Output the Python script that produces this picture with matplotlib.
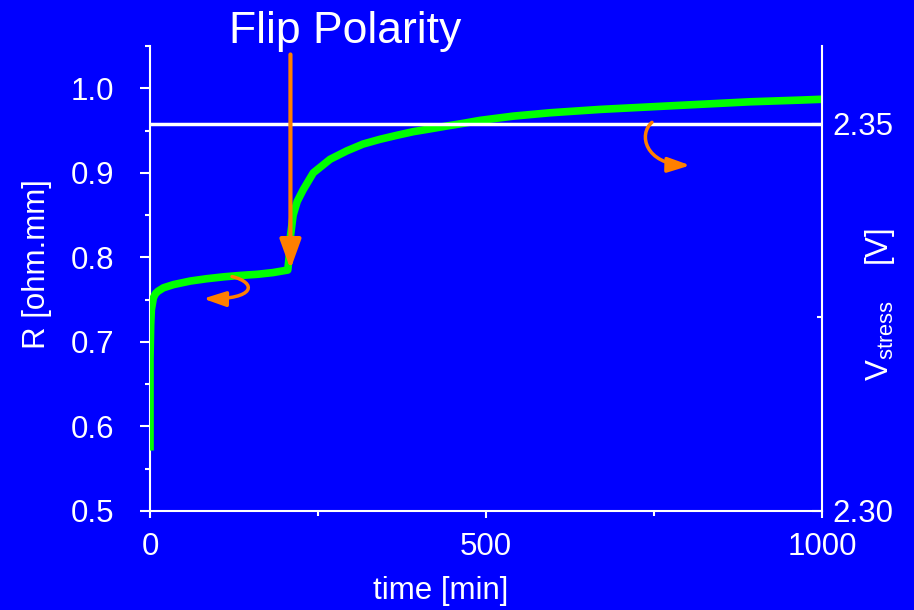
import numpy as np
import matplotlib
matplotlib.use("Agg")
import matplotlib.pyplot as plt
from matplotlib.patches import FancyArrowPatch
from matplotlib.path import Path

plt.rcParams['font.family'] = ['Liberation Sans', 'DejaVu Sans']
plt.rcParams['mathtext.fontset'] = 'custom'
plt.rcParams['mathtext.rm'] = 'Liberation Sans'
plt.rcParams['mathtext.it'] = 'Liberation Sans:italic'

# resistance trace (time in min, R in ohm.mm)
time_min = [0, 0, 1, 2, 5, 8, 12, 20, 35, 60, 84, 110, 134, 160, 183, 205,
            207, 209, 213, 219, 228, 243, 268, 293, 317, 342, 367, 392,
            417, 441, 466, 491, 540, 595, 670, 744, 818, 893, 967, 1000]
resistance = [0.576, 0.68, 0.72, 0.738, 0.752, 0.757, 0.760, 0.764, 0.7678,
              0.772, 0.7747, 0.777, 0.7786, 0.780, 0.782, 0.785,
              0.800, 0.825, 0.850, 0.866, 0.880, 0.900, 0.916, 0.926, 0.934,
              0.9396, 0.9443, 0.9487, 0.952, 0.9553, 0.9585, 0.962, 0.967,
              0.971, 0.975, 0.978, 0.981, 0.984, 0.986, 0.987]

# applied stress voltage (constant)
v_time = [0, 1000]
v_stress = [2.35, 2.35]

x_ticks = [0, 500, 1000]
x_minor = [250, 750]
r_ticks = [0.5, 0.6, 0.7, 0.8, 0.9, 1.0]
r_labels = ['0.5', '0.6', '0.7', '0.8', '0.9', '1.0']
r_minor = [0.55, 0.65, 0.75, 0.85, 0.95, 1.05]
v_ticks = [2.30, 2.35]
v_labels = ['2.30', '2.35']
v_minor = [2.325]

# flip marker arrow (time, R)
flip_start = (209, 1.04)
flip_tip = (209, 0.786)
# curved "which axis" arrows as cubic bezier control points (time, R)
left_hook = [(122, 0.7773), (160, 0.770), (157, 0.750), (79, 0.7512)]
right_hook = [(747, 0.9597), (726, 0.9455), (737, 0.910), (804, 0.9088)]

blue = '#0000FF'
green = '#00FF00'
orange = '#FF7F00'

fig = plt.figure(figsize=(9.14, 6.10), dpi=100, facecolor=blue)
ax = fig.add_axes([150/914, 1 - 511/610, 672/914, 465/610])
ax.set_facecolor(blue)
ax.set_xlim(0, 1000)
ax.set_ylim(0.5, 1.05)

ax.plot(time_min, resistance, color=green, lw=5.5, solid_joinstyle='round', zorder=3)

ax2 = ax.twinx()
ax2.set_ylim(2.30, 2.36)
ax2.plot(v_time, v_stress, color='white', lw=2.5, zorder=2)

for s in ['top', 'right']:
    ax.spines[s].set_visible(False)
for s in ['top', 'left', 'bottom']:
    ax2.spines[s].set_visible(False)
for s in ['left', 'bottom']:
    ax.spines[s].set_color('white')
    ax.spines[s].set_linewidth(1.5)
ax2.spines['right'].set_color('white')
ax2.spines['right'].set_linewidth(1.5)

ax.set_xticks(x_ticks)
ax.set_xticks(x_minor, minor=True)
ax.set_yticks(r_ticks)
ax.set_yticklabels(r_labels)
ax.set_yticks(r_minor, minor=True)
ax2.set_yticks(v_ticks)
ax2.set_yticklabels(v_labels)
ax2.set_yticks(v_minor, minor=True)

ax.tick_params(axis='x', which='major', direction='out', length=5, width=1.5,
               colors='white', labelsize=22.5, pad=10)
ax.tick_params(axis='x', which='minor', direction='out', length=3.5, width=1.5,
               colors='white')
ax.tick_params(axis='y', which='major', direction='out', length=7, width=1.5,
               colors='white', labelsize=22.5, pad=19)
ax.tick_params(axis='y', which='minor', direction='out', length=3.5, width=1.5,
               colors='white')
ax2.tick_params(axis='y', which='major', direction='in', length=7, width=1.5,
                colors='white', labelsize=22.5, pad=7.5)
ax2.tick_params(axis='y', which='minor', direction='in', length=3.5, width=1.5,
                colors='white')

fig.text(37/914, 1 - 264/610, 'R [ohm.mm]', rotation=90, ha='center',
         va='center', color='white', fontsize=22.5)
fig.text(441/914, 1 - 599/610, 'time [min]', ha='center', va='baseline',
         color='white', fontsize=22.5)
fig.text(880/914, 1 - 305/610, r'V$_{\mathrm{stress}}$    [V]', rotation=90,
         ha='center', va='center', color='white', fontsize=22.5)
fig.text(345/914, 1 - 43/610, 'Flip Polarity', ha='center', va='baseline',
         color='white', fontsize=32)

ax2.annotate('', xy=flip_tip, xytext=flip_start,
             xycoords=ax.transData, textcoords=ax.transData,
             arrowprops=dict(arrowstyle='-|>,head_length=1.8,head_width=0.65',
                             color=orange, lw=3, shrinkA=0, shrinkB=0,
                             mutation_scale=10))

curve_codes = [Path.MOVETO, Path.CURVE4, Path.CURVE4, Path.CURVE4]
for hook in [left_hook, right_hook]:
    arrow = FancyArrowPatch(path=Path(hook, curve_codes),
                            arrowstyle='-|>,head_length=1.35,head_width=0.45',
                            mutation_scale=10, color=orange, lw=2.5,
                            transform=ax.transData, zorder=5)
    ax2.add_patch(arrow)

fig.savefig('out.png', dpi=100, facecolor=blue)
